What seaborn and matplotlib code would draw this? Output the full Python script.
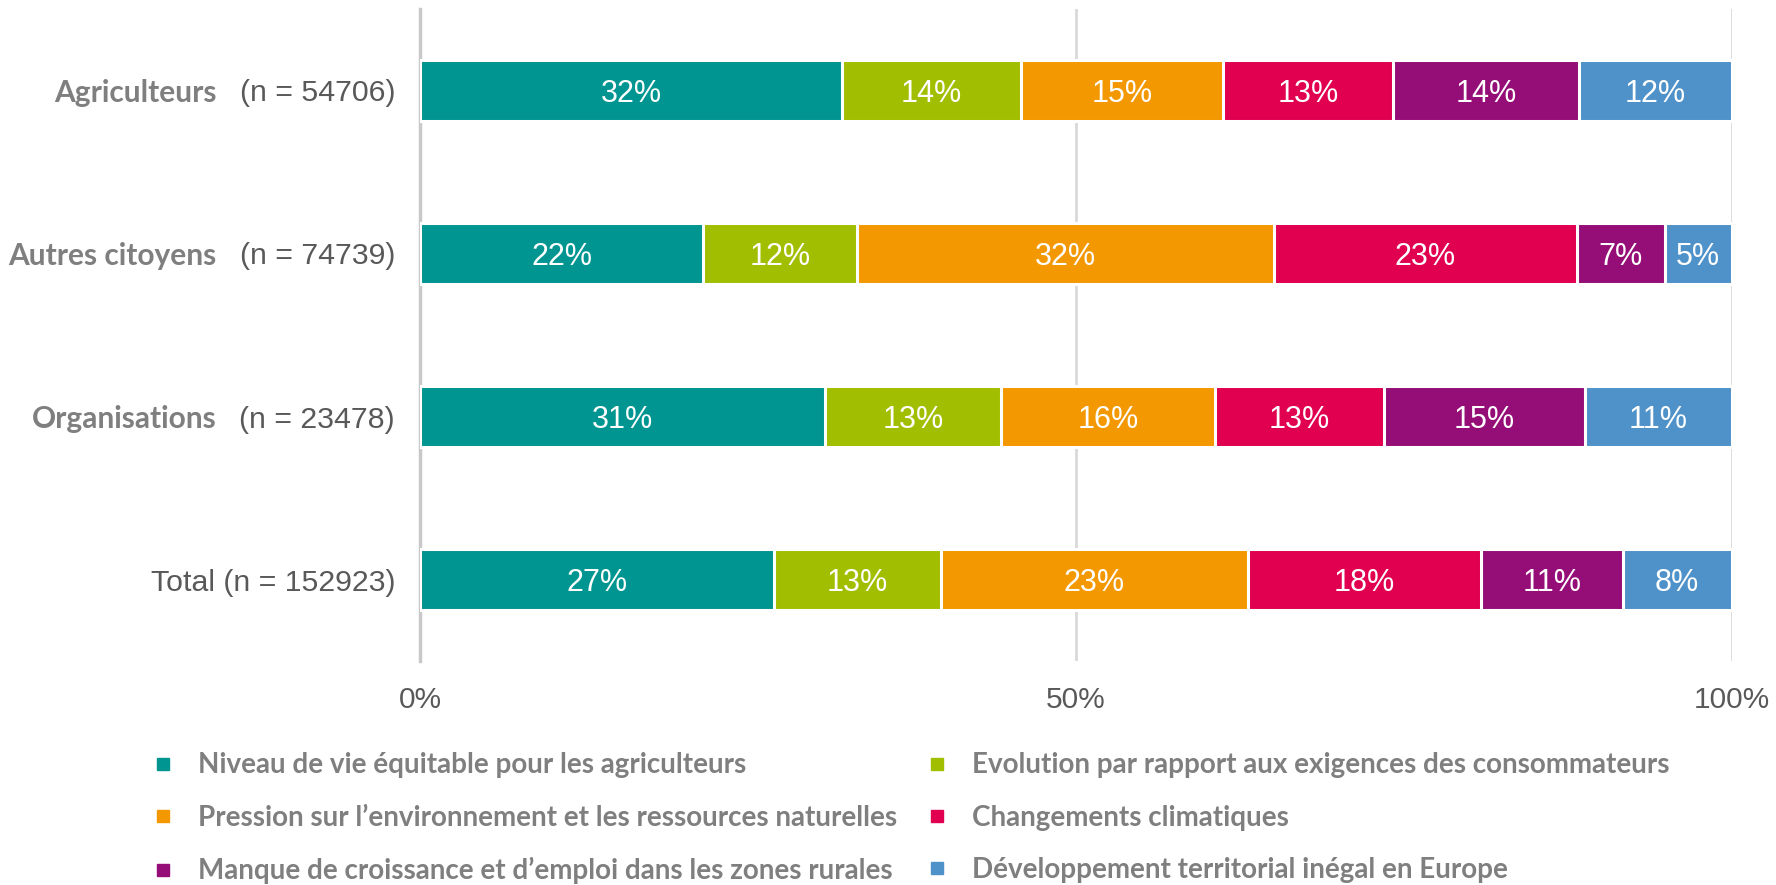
import matplotlib
matplotlib.use('Agg')
import matplotlib.pyplot as plt
import seaborn as sns
import numpy as np
from matplotlib.lines import Line2D

# Données (en %)
groupes = ['Agriculteurs', 'Autres citoyens', 'Organisations', 'Total']
effectifs = ['(n = 54706)', '(n = 74739)', '(n = 23478)', 'Total (n = 152923)']
noms_gras = ['Agriculteurs', 'Autres citoyens', 'Organisations', '']

niveau_vie = [32.2, 21.6, 30.9, 27.0]
evolution = [13.6, 11.7, 13.4, 12.7]
pression = [15.4, 31.8, 16.3, 23.4]
climat = [13.0, 23.1, 12.9, 17.8]
emploi = [14.2, 6.7, 15.3, 10.8]
territorial = [11.6, 5.1, 11.2, 8.3]

series = [niveau_vie, evolution, pression, climat, emploi, territorial]
noms_series = [
    'Niveau de vie équitable pour les agriculteurs',
    'Evolution par rapport aux exigences des consommateurs',
    'Pression sur l\u2019environnement et les ressources naturelles',
    'Changements climatiques',
    'Manque de croissance et d\u2019emploi dans les zones rurales',
    'Développement territorial inégal en Europe',
]
couleurs = ['#009591', '#a1be00', '#f39800', '#e1004f', '#950e78', '#4f92c9']

sns.set_style('white')
plt.rcParams['font.family'] = ['Liberation Sans', 'DejaVu Sans']

fig = plt.figure(figsize=(17.76, 8.85), dpi=100)
ax = fig.add_axes([0.2365, 0.253, 0.7385, 0.737])

valeurs = np.array(series)
cumul = valeurs.cumsum(axis=0)

# barres empilées : on dessine les cumuls du plus grand au plus petit
for i in range(len(series) - 1, -1, -1):
    sns.barplot(x=cumul[i], y=groupes, orient='h', color=couleurs[i],
                saturation=1, width=0.375, edgecolor='white', linewidth=2.2,
                ax=ax, zorder=3)

# étiquettes des segments
for i in range(len(series)):
    for j in range(len(groupes)):
        centre = cumul[i][j] - valeurs[i][j] / 2
        ax.text(centre, j, f'{valeurs[i][j]:.0f}%', ha='center', va='center_baseline',
                color='white', fontsize=22,
                family=['Liberation Sans Narrow', 'Liberation Sans'], zorder=4)

ax.set_xlim(0, 100)
ax.set_ylim(3.5, -0.5)
ax.set_xticks([0, 50, 100])
ax.set_xticklabels(['0%', '50%', '100%'])
ax.set_yticks(range(len(groupes)))
ax.set_yticklabels(effectifs)
ax.set_xlabel('')
ax.set_ylabel('')
ax.tick_params(axis='x', length=0, pad=18, labelsize=21.5, labelcolor='#595959')
ax.tick_params(axis='y', length=0, pad=18, labelsize=21.8, labelcolor='#595959')
ax.xaxis.grid(True, color='#d9d9d9', linewidth=2)
ax.yaxis.grid(False)
ax.set_axisbelow(True)
for s in ['top', 'right', 'bottom']:
    ax.spines[s].set_visible(False)
ax.spines['left'].set_color('#c8c8c8')
ax.spines['left'].set_linewidth(2.5)

# noms des groupes en gras
for j, nom in enumerate(noms_gras):
    if nom:
        ax.text(-0.155, j, nom, transform=ax.get_yaxis_transform(),
                ha='right', va='center_baseline', fontsize=21.5, fontweight='bold',
                color='#7f7f7f', family=['Lato', 'DejaVu Sans'])

# légende sur deux colonnes
poignees = [Line2D([], [], linestyle='none', marker='s', markersize=8,
                   markerfacecolor=c, markeredgecolor=c) for c in couleurs]
for col, (x0, idx) in enumerate([(0.087, [0, 2, 4]), (0.523, [1, 3, 5])]):
    fig.legend([poignees[k] for k in idx], [noms_series[k] for k in idx],
               loc='upper left', bbox_to_anchor=(x0, 0.150),
               frameon=False, borderpad=0, borderaxespad=0,
               handlelength=0.6, handletextpad=0.97, labelspacing=0.95,
               prop={'family': ['Lato', 'DejaVu Sans'], 'weight': 'bold', 'size': 20},
               labelcolor='#7f7f7f')

fig.savefig('out.png', dpi=100)
